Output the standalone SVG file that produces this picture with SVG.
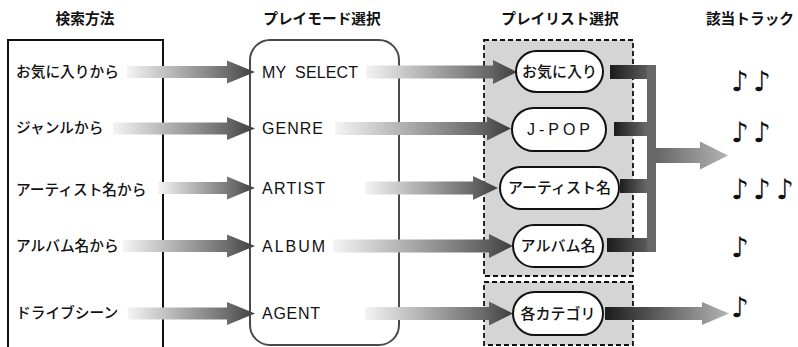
<svg xmlns="http://www.w3.org/2000/svg" width="798" height="347" viewBox="0 0 798 347">
  <defs>
    <linearGradient id="gIn" x1="0" y1="0" x2="1" y2="0">
      <stop offset="0" stop-color="#f4f4f4"/>
      <stop offset="0.8" stop-color="#6a6a6a"/>
      <stop offset="1" stop-color="#3e3e3e"/>
    </linearGradient>
    <linearGradient id="gBar" x1="0" y1="0" x2="1" y2="0">
      <stop offset="0" stop-color="#1c1c1c"/>
      <stop offset="1" stop-color="#686868"/>
    </linearGradient>
    <linearGradient id="gOutMain" x1="0" y1="0" x2="1" y2="0">
      <stop offset="0" stop-color="#666666"/>
      <stop offset="1" stop-color="#b4b4b4"/>
    </linearGradient>
    <linearGradient id="gOutCat" x1="0" y1="0" x2="1" y2="0">
      <stop offset="0" stop-color="#1c1c1c"/>
      <stop offset="1" stop-color="#b4b4b4"/>
    </linearGradient>
  </defs>
  <style>
    .hdr { font-family: "Noto Sans CJK JP", "Noto Sans", sans-serif; font-size: 14.7px; font-weight: 600; fill: #111; text-anchor: middle; }
    .lbl { font-family: "Noto Sans CJK JP", "Noto Sans", sans-serif; font-size: 14.7px; font-weight: 500; fill: #111; }
    .mode { font-family: "Liberation Sans", Arial, sans-serif; font-size: 16px; fill: #111; white-space: pre; }
    .pilltxt { font-family: "Noto Sans CJK JP", "Liberation Sans", sans-serif; font-size: 15px; font-weight: 500; fill: #111; text-anchor: middle; }
    .pill { fill: #ffffff; stroke: #111; stroke-width: 2; }
    .note { font-family: "DejaVu Sans", "Noto Sans CJK JP", sans-serif; font-size: 28px; fill: #111; }
    .box { fill: #d5d5d5; stroke: #111; stroke-width: 1.8; stroke-dasharray: 5 3; }
    .arrIn { fill: url(#gIn); }
    .bar { fill: url(#gBar); }
  </style>

  <rect x="0" y="0" width="798" height="347" fill="#ffffff"/>

  <!-- headers -->
  <g id="headers">
    <text class="hdr" x="85" y="24">検索方法</text>
    <text class="hdr" x="322" y="24">プレイモード選択</text>
    <text class="hdr" x="560" y="24">プレイリスト選択</text>
    <text class="hdr" x="750" y="24">該当トラック</text>
  </g>

  <!-- containers -->
  <g id="search-box">
    <rect x="8" y="40" width="155" height="330" fill="#ffffff" stroke="#111" stroke-width="2"/>
  </g>
  <g id="playmode-box">
    <rect x="250" y="40" width="149" height="305" rx="20" ry="20" fill="#ffffff" stroke="#4a4a4a" stroke-width="2"/>
  </g>
  <g id="playlist-box">
    <rect class="box" x="484" y="40" width="149" height="236"/>
  </g>
  <g id="agent-box">
    <rect class="box" x="484" y="282" width="149" height="63"/>
  </g>

  <!-- search methods -->
  <g id="src-favorites"><text class="lbl" x="16" y="77">お気に入りから</text></g>
  <g id="src-genre"><text class="lbl" x="16" y="133">ジャンルから</text></g>
  <g id="src-artist"><text class="lbl" x="16" y="195">アーティスト名から</text></g>
  <g id="src-album"><text class="lbl" x="16" y="251">アルバム名から</text></g>
  <g id="src-drive"><text class="lbl" x="16" y="318">ドライブシーン</text></g>

  <!-- play modes -->
  <g id="mode-myselect"><text class="mode" x="262" y="78" textLength="96" lengthAdjust="spacing">MY  SELECT</text></g>
  <g id="mode-genre"><text class="mode" x="262" y="134" textLength="61" lengthAdjust="spacing">GENRE</text></g>
  <g id="mode-artist"><text class="mode" x="262" y="194" textLength="63" lengthAdjust="spacing">ARTIST</text></g>
  <g id="mode-album"><text class="mode" x="262" y="252" textLength="63" lengthAdjust="spacing">ALBUM</text></g>
  <g id="mode-agent"><text class="mode" x="262" y="319" textLength="58" lengthAdjust="spacing">AGENT</text></g>

  <!-- connectors -->
  <g id="connectors">
    <!-- search -> mode -->
    <path class="arrIn" d="M127,66 H227 V60.5 L255,72 L227,83.5 V78 H127 Z"/>
    <path class="arrIn" d="M113,122.5 H227 V117 L255,128.5 L227,140 V134.5 H113 Z"/>
    <path class="arrIn" d="M158,182 H227 V176.5 L255,188 L227,199.5 V194 H158 Z"/>
    <path class="arrIn" d="M123,240 H227 V234.5 L255,246 L227,257.5 V252 H123 Z"/>
    <path class="arrIn" d="M128,307.5 H227 V302 L255,313.5 L227,325 V319.5 H128 Z"/>
    <!-- mode -> playlist -->
    <path class="arrIn" d="M366,65.5 H493 V60 L517,72 L493,84 V78.5 H366 Z"/>
    <path class="arrIn" d="M335,122 H487 V116.5 L511,128.5 L487,140.5 V135 H335 Z"/>
    <path class="arrIn" d="M365,181.5 H473 V176 L498,188 L473,200 V194.5 H365 Z"/>
    <path class="arrIn" d="M333,239.5 H489 V234 L513,246 L489,258 V252.5 H333 Z"/>
    <path class="arrIn" d="M365,307 H489 V301.5 L513,313.5 L489,325.5 V320 H365 Z"/>
    <!-- playlist -> tracks -->
    <rect class="bar" x="610" y="65" width="46" height="14"/>
    <rect class="bar" x="614" y="122" width="33" height="14"/>
    <rect class="bar" x="620" y="179" width="27" height="14"/>
    <rect class="bar" x="607" y="238" width="49" height="14"/>
    <rect x="647" y="65" width="9" height="187" fill="#676767"/>
    <path fill="url(#gOutMain)" d="M656,148 H700 V141.5 L728,155.5 L700,169.5 V163 H656 Z"/>
    <path fill="url(#gOutCat)" d="M605,307 H702 V302 L729,313.5 L702,325 V320 H605 Z"/>
  </g>

  <!-- playlists -->
  <g id="pl-favorites">
    <rect class="pill" x="516" y="51" width="87" height="41" rx="20.5" ry="20.5"/>
    <text class="pilltxt" x="559.5" y="77">お気に入り</text>
  </g>
  <g id="pl-jpop">
    <rect class="pill" x="512" y="108" width="94" height="43" rx="21.5" ry="21.5"/>
    <text class="pilltxt" x="527" y="135" style="text-anchor:start;font-family:'Liberation Sans',Arial,sans-serif;font-size:16px;font-weight:normal" textLength="63" lengthAdjust="spacing">J-POP</text>
  </g>
  <g id="pl-artist">
    <rect class="pill" x="500" y="167" width="119" height="42" rx="21" ry="21"/>
    <text class="pilltxt" x="559.5" y="193">アーティスト名</text>
  </g>
  <g id="pl-album">
    <rect class="pill" x="513" y="225" width="90" height="42" rx="21" ry="21"/>
    <text class="pilltxt" x="558" y="251">アルバム名</text>
  </g>
  <g id="pl-category">
    <rect class="pill" x="513" y="292" width="90" height="43" rx="21.5" ry="21.5"/>
    <text class="pilltxt" x="558" y="319">各カテゴリ</text>
  </g>

  <!-- tracks -->
  <g id="tracks-1"><text class="note" x="731 753" y="91">♪♪</text></g>
  <g id="tracks-2"><text class="note" x="731 753" y="142">♪♪</text></g>
  <g id="tracks-3"><text class="note" x="731 753 776" y="199">♪♪♪</text></g>
  <g id="tracks-4"><text class="note" x="731" y="257">♪</text></g>
  <g id="tracks-5"><text class="note" x="731" y="317">♪</text></g>
</svg>
